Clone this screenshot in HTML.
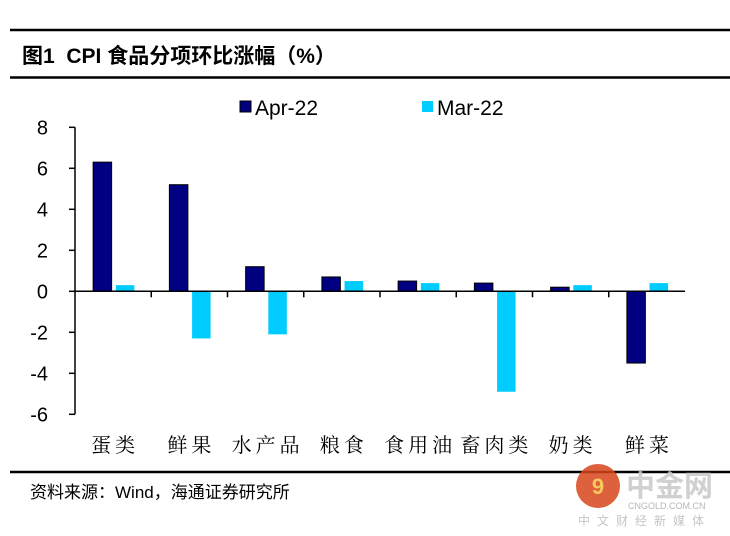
<!DOCTYPE html>
<html><head><meta charset="utf-8"><style>
body{margin:0;background:#fff;}
svg{display:block;}
</style></head><body>
<svg width="730" height="536" viewBox="0 0 730 536" xmlns="http://www.w3.org/2000/svg">
<line x1="10" y1="30" x2="730" y2="30" stroke="#000" stroke-width="2.5"/>
<text x="22" y="63" font-family="'Liberation Sans','Noto Sans CJK SC',sans-serif" font-size="21" font-weight="bold">图1&#160;&#160;CPI 食品分项环比涨幅（%）</text>
<line x1="10" y1="77.5" x2="730" y2="77.5" stroke="#000" stroke-width="2.5"/>
<g>
<rect x="240" y="101" width="11" height="11" fill="#000080" stroke="#000"/>
<text x="255" y="115" font-family="'Liberation Sans',sans-serif" font-size="21">Apr-22</text>
<rect x="422" y="101" width="11" height="11" fill="#00ccff"/>
<text x="437" y="115" font-family="'Liberation Sans',sans-serif" font-size="21">Mar-22</text>
</g>
<g id="plot"></g>
<line x1="10" y1="472" x2="730" y2="472" stroke="#000" stroke-width="2.5"/>
<text x="30" y="498" font-family="'Liberation Sans','Noto Sans CJK SC',sans-serif" font-size="17">资料来源：Wind，海通证券研究所</text>
<g opacity="0.85">
<circle cx="598" cy="486" r="22" fill="#d9461c"/>
<text x="598" y="494" text-anchor="middle" font-family="'Liberation Sans',sans-serif" font-size="22" font-weight="bold" fill="#f6c040">9</text>
<text x="626" y="496" font-family="'Noto Sans CJK SC',sans-serif" font-size="29" font-weight="bold" fill="#c8c8c8">中金网</text>
<text x="628" y="509" font-family="'Liberation Sans',sans-serif" font-size="9" fill="#aaa">CNGOLD.COM.CN</text>
<text x="578" y="525" font-family="'Noto Sans CJK SC',sans-serif" font-size="12" fill="#bbb" letter-spacing="7">中文财经新媒体</text>
</g>
</svg>
<script>
const categories=["蛋类","鲜果","水产品","粮食","食用油","畜肉类","奶类","鲜菜"];
const aprValues=[6.3,5.2,1.2,0.7,0.5,0.4,0.2,-3.5];
const marValues=[0.3,-2.3,-2.1,0.5,0.4,-4.9,0.3,0.4];
const yTicks=[8,6,4,2,0,-2,-4,-6];
const NS="http://www.w3.org/2000/svg";
const g=document.getElementById('plot');
const x0=75,x1=685,zeroY=291.3,unit=20.5;
const yS=v=>zeroY-v*unit;
const cw=(x1-x0)/categories.length;
function el(t,a){const e=document.createElementNS(NS,t);for(const k in a)e.setAttribute(k,a[k]);g.appendChild(e);return e;}
const ax=el('line',{x1:x0,y1:yS(8),x2:x0,y2:yS(-6),stroke:'#000','stroke-width':1.5});


yTicks.forEach(v=>{
 const t=el('line',{x1:x0-6,y1:yS(v),x2:x0,y2:yS(v),stroke:'#000','stroke-width':1.5});
 
 
 const l=el('text',{x:48,y:yS(v)+7,'text-anchor':'end','font-family':"'Liberation Sans',sans-serif",'font-size':20});
 l.textContent=v;
 
 
});
categories.forEach((c,i)=>{
 const cx=x0+cw*(i+0.5);
 const a=aprValues[i],m=marValues[i];
 const ra=el('rect',{x:cx-20,y:Math.min(yS(a),zeroY),width:18.5,height:Math.abs(a)*unit,fill:'#000080',stroke:'#000','stroke-width':1});
 
 
 const rm=el('rect',{x:cx+2.7,y:Math.min(yS(m),zeroY),width:18.5,height:Math.abs(m)*unit,fill:'#00ccff'});
 
 
 const l=el('text',{x:cx+2,y:452,'text-anchor':'middle','font-family':"'Noto Serif CJK SC','Noto Sans CJK SC',serif",'font-size':20,'letter-spacing':4});
 l.textContent=c;
 
 
 if(i>0){const t=el('line',{x1:x0+cw*i,y1:zeroY,x2:x0+cw*i,y2:zeroY+6,stroke:'#000','stroke-width':1.5});
 
 }
});
const xa=el('line',{x1:x0,y1:zeroY,x2:x1,y2:zeroY,stroke:'#000','stroke-width':1.5});


</script>
</body></html>
